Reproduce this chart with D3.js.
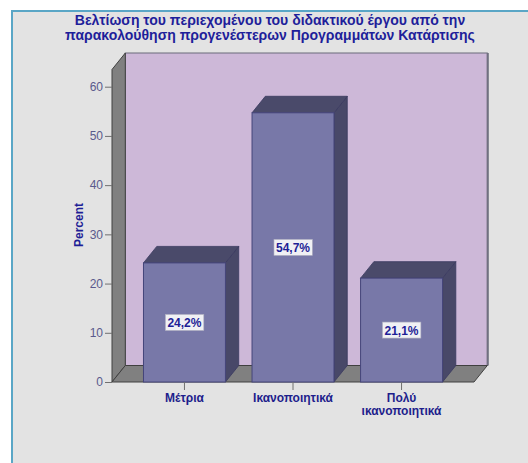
<!DOCTYPE html>
<html><head><meta charset="utf-8">
<script src="https://cdn.jsdelivr.net/npm/d3@7"></script>
<style>body{margin:0;background:#fff;}svg{display:block;font-family:Arial,"Liberation Sans",sans-serif;}</style>
</head><body>
<svg id="c" width="528" height="463"></svg>
<script>
const titleLines = ["Βελτίωση του περιεχομένου του διδακτικού έργου από την", "παρακολούθηση προγενέστερων Προγραμμάτων Κατάρτισης"];
const categories = [["Μέτρια"], ["Ικανοποιητικά"], ["Πολύ", "ικανοποιητικά"]];
const values = [24.2, 54.7, 21.1];
const labels = ["24,2%", "54,7%", "21,1%"];
const yTicks = [0, 10, 20, 30, 40, 50, 60];

const svg = d3.select("#c");
// frame
svg.append("rect").attr("x", 12).attr("y", 11).attr("width", 530).attr("height", 470)
  .attr("fill", "#e3e3e3").attr("stroke", "#5aa6c6").attr("stroke-width", 2);

const X0 = 112, X1 = 474, DX = 13.3, DY = 16.5;
const y = d3.scaleLinear().domain([0, 60]).range([382, 86.7]);
const x = d3.scaleBand().domain(d3.range(values.length)).range([X0, X1]).paddingInner(0.245).paddingOuter(0.29);
const topY = 53; // back wall top

// back wall
svg.append("rect").attr("x", X0 + DX).attr("y", topY).attr("width", X1 - X0).attr("height", y(0) - DY - topY)
  .attr("fill", "#cdb8d8").attr("stroke", "#6a6a7a").attr("stroke-width", 1);
svg.append("line").attr("x1", X1 + DX + 0.5).attr("x2", X1 + DX + 0.5).attr("y1", topY).attr("y2", y(0) - DY)
  .attr("stroke", "#707080").attr("stroke-width", 2);
// left side wall
svg.append("path").attr("d", `M${X0},${y(0)} L${X0},${topY + DY} L${X0 + DX},${topY} L${X0 + DX},${y(0) - DY} Z`)
  .attr("fill", "#808080").attr("stroke", "#404040").attr("stroke-width", 1);
// floor
svg.append("path").attr("d", `M${X0},${y(0)} L${X1},${y(0)} L${X1 + DX},${y(0) - DY} L${X0 + DX},${y(0) - DY} Z`)
  .attr("fill", "#808080").attr("stroke", "#404040").attr("stroke-width", 1);

// bars
const bars = svg.append("g");
values.forEach((v, i) => {
  const bx = x(i), bw = x.bandwidth(), by = y(v), b0 = y(0);
  bars.append("path").attr("d", `M${bx + bw},${b0} L${bx + bw},${by} L${bx + bw + DX},${by - DY} L${bx + bw + DX},${b0 - DY} Z`)
    .attr("fill", "#484868").attr("stroke", "#3a3a60").attr("stroke-width", 0.8);
  bars.append("path").attr("d", `M${bx},${by} L${bx + DX},${by - DY} L${bx + bw + DX},${by - DY} L${bx + bw},${by} Z`)
    .attr("fill", "#4a4a6a").attr("stroke", "#3a3a60").attr("stroke-width", 0.8);
  bars.append("rect").attr("x", bx).attr("y", by).attr("width", bw).attr("height", b0 - by)
    .attr("fill", "#7878a8").attr("stroke", "#45457a").attr("stroke-width", 1);
  // label
  const cx = bx + bw / 2, cy = (by + b0) / 2;
  const t = bars.append("text").attr("x", cx).attr("y", cy + 4.5).attr("text-anchor", "middle")
    .attr("font-size", 12).attr("font-weight", "bold").attr("fill", "#1e1e96").text(labels[i]);
  const bb = t.node().getBBox();
  bars.insert("rect", () => t.node()).attr("x", bb.x - 2).attr("y", cy - 8).attr("width", bb.width + 4).attr("height", 16)
    .attr("fill", "#f0f0f4").attr("stroke", "#b0b0c0").attr("stroke-width", 0.6);
});

// y axis
const ya = svg.append("g").attr("transform", `translate(${X0},0)`)
  .call(d3.axisLeft(y).tickValues(yTicks).tickSize(7).tickPadding(2).tickFormat(d3.format("d")));
ya.select(".domain").remove();
ya.selectAll("line").attr("stroke", "#707070");
ya.selectAll("text").attr("font-size", 12).attr("fill", "#5a5a8c").attr("font-family", "Arial,'Liberation Sans',sans-serif");

// x axis ticks
const xa = svg.append("g").attr("transform", `translate(0,${y(0)})`)
  .call(d3.axisBottom(x).tickSize(8).tickFormat(""));
xa.select(".domain").remove();
xa.selectAll("line").attr("stroke", "#707070");
categories.forEach((lines, i) => {
  const t = svg.append("text").attr("x", x(i) + x.bandwidth() / 2).attr("y", 402).attr("text-anchor", "middle")
    .attr("font-size", 12).attr("font-weight", "bold").attr("fill", "#1e1e8c");
  lines.forEach((l, j) => t.append("tspan").attr("x", x(i) + x.bandwidth() / 2).attr("dy", j ? 12.5 : 0).text(l));
});

// y label
svg.append("text").attr("transform", "translate(83,225) rotate(-90)").attr("text-anchor", "middle")
  .attr("font-size", 12).attr("font-weight", "bold").attr("fill", "#1e1e96").text("Percent");

// title
const tt = svg.append("text").attr("text-anchor", "middle").attr("font-size", 14).attr("font-weight", "bold").attr("fill", "#1e1e9a");
titleLines.forEach((l, i) => tt.append("tspan").attr("x", 270).attr("y", 25 + i * 15).text(l));
</script>
</body></html>
